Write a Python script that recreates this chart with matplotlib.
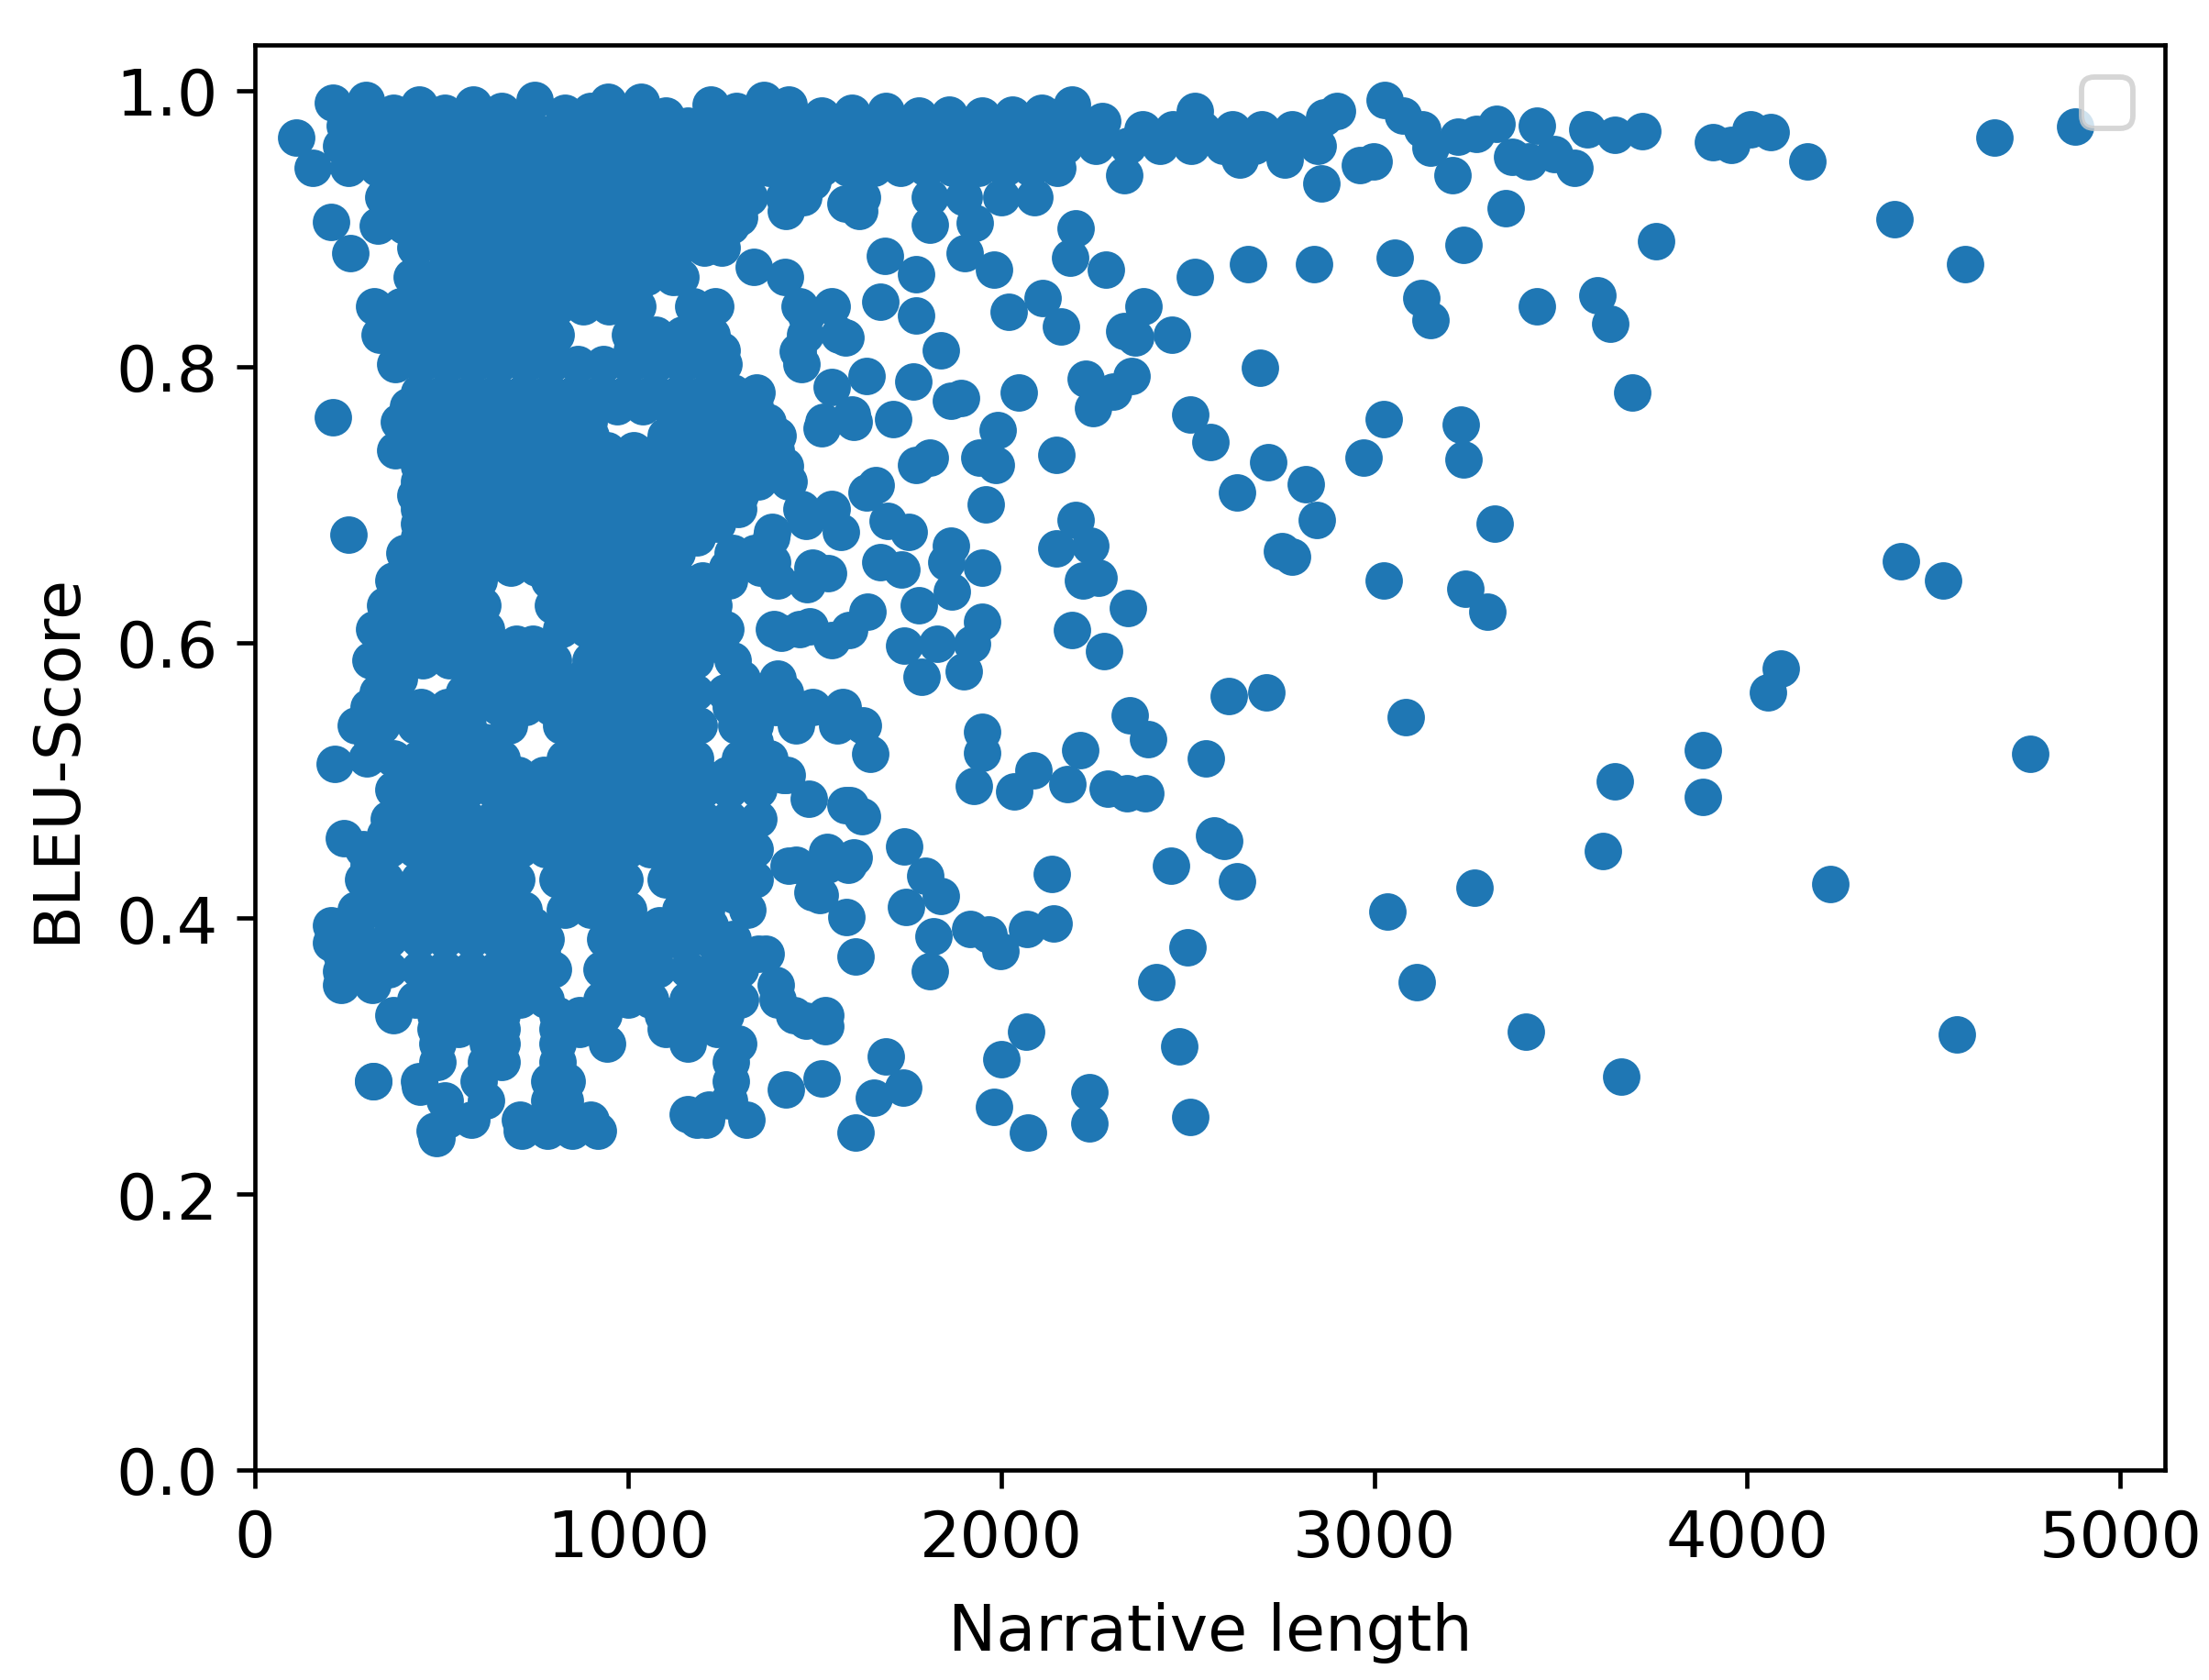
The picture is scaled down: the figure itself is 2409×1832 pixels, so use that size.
import logging
import matplotlib
matplotlib.use("Agg")
import matplotlib.pyplot as plt

logging.getLogger("matplotlib.legend").setLevel(logging.ERROR)

x_sparse = [110,155,205,255,208,250,215,238,205,230,317,442,487,
 4880,4664,4585,4396,4162,4010,4063,3908,3958,3757,3720,3644,3572,3538,3482,3414,3369,3353,3436,3327,3274,3225,3210,3240,
 3436,3599,3633,3693,3127,3150,3055,3029,3078,3130,3150,2999,2961,2900,2866,2859,2840,2662,2519,2519,2281,2330,
 2383,2458,2330,2360,2228,2247,2349,2300,2507,2560,2693,2715,2632,2817,2847,2753,2779,2972,3025,3232,3240,3323,
 3025,3244,3304,4411,4524,4090,4056,3882,3882,3644,4758,3614,4222,3270,3036,3115,3406,3663,4562,3085,
 2712,2610,2549,2572,2598,2632,2455,2500,2417,2477,2507,2236,2236,2073,1982,2066,2002,1609,1658,1692,1737,
 1318,1159,1216,1424,1518,1477,1530,2069,2141,2137,1998,1967,1918,1809,1820,1745,1839,1798,1741,
 1609,1586,1605,1495,1431,1533,1628,1582,1484,1416,1650,1926,1949,1949,2036,2088,2179,2213,2285,2338,2387,2345,2394,
 2341,2277,2190,2220,2262,2239,2201,2149,2149,1949,1960,1986,1941,1990,1949,1922,1900,1828,1786,1741,
 2047,2020,2111,2160,2186,2201,1982,1930,1892,1866,1839,1771,1677,1809,1771,1688,1903,
 1764,1809,1771,1711,1665,1639,1752,1696,1677,1733,1779,1866,1854,1869,1643,1594,1545,1488,1412,1480,1537,
 1571,1477,1386,1386,1518,1601,1545,1639,1454,1477,1582,1424,1582,1620,1420,1337,1495,1299]
y_sparse = [.966,.944,.905,.882,.763,.678,.512,.458,.382,.362,.282,.278,.241,
 .974,.966,.874,.907,.949,.972,.970,.963,.961,.891,.971,.968,.972,.944,.954,.949,.952,.915,.975,.976,.969,.967,.939,.888,
 .844,.852,.831,.781,.850,.834,.879,.993,.982,.972,.959,.949,.946,.985,.981,.933,.874,.874,.865,.985,.870,.939,
 .844,.823,.826,.821,.791,.770,.793,.782,.765,.745,.799,.731,.709,.715,.689,.666,.662,.734,.762,.758,.733,.686,
 .645,.639,.622,.659,.645,.581,.564,.522,.488,.499,.519,.449,.425,.422,.405,.354,.318,.285,.316,.546,
 .564,.561,.516,.460,.456,.427,.438,.379,.354,.307,.256,.274,.251,.245,.263,.318,.298,.245,.270,.300,.277,
 .254,.258,.261,.276,.284,.326,.322,.392,.396,.432,.376,.388,.392,.362,.387,.408,.416,.431,.452,
 .372,.401,.444,.419,.438,.448,.474,.482,.487,.504,.519,.496,.535,.520,.492,.507,.497,.522,.494,.491,.491,.547,.530,
 .625,.594,.609,.645,.647,.670,.689,.668,.736,.654,.700,.729,.734,.754,.615,.599,.579,.599,.575,.598,
 .781,.840,.850,.829,.879,.900,.870,.904,.777,.775,.812,.837,.847,.903,.867,.880,.882,
 .789,.734,.729,.762,.714,.709,.680,.688,.658,.653,.627,.670,.658,.637,.622,.609,.602,.612,.607,.642,.650,
 .680,.688,.680,.658,.755,.765,.785,.793,.811,.837,.821,.913,.918,.913,.865,.872,.934,.908]

x_crest = [210,298,370,441,510,584,660,749,830,900,946,1034,1100,1221,1290,1363,1430,1520,1600,1690,1780,1860,1950,2030,2110,2190,2270]
y_crest = [.991,.993,.984,.990,.984,.990,.985,.993,.984,.985,.992,.992,.982,.990,.985,.993,.990,.982,.984,.985,.982,.983,.982,.983,.984,.990,.978]

row_levels = [.975,.960,.944,.923,.902,.886,.865,.844,.823,.802,.781,.760,.739,.717,.697,.676,.654,.633,
 .620,.599,.574,.553,.528,.504,.482,.461,.439,.417,.395,.374,.352,.330,.309,.282,.254,.246]
row_points = [
 [240,320,400,480,565,650,735,820,905,990,1075,1160,1245,1330,1415,1500,1585,1670,1755,1840,1925,2010,2095,2180,2265],
 [230,300,385,470,555,640,725,810,895,980,1065,1150,1235,1320,1405,1490,1575,1660,1745,1830,1915,2000,2085,2170,2255,2340,2425,2510,2595,2680,2765,2850],
 [250,330,400,470,540,610,680,750,820,890,960,1030,1100,1170,1240,1310,1380,1450,1520,1590,1660,1730,1800,1870,1940,2010,2080,2150],
 [345,415,485,555,625,695,765,835,905,975,1045,1115,1185,1255,1325,1418,1470,1627,1810,1900,2000,2090],
 [330,400,470,540,610,680,750,820,890,960,1030,1100,1170,1240,1275],
 [430,505,575,645,715,785,855,925,995,1065,1135,1205,1250],
 [420,490,560,630,700,770,840,910,980,1050,1120,1140],
 [320,390,460,530,600,670,740,810,880,950,1025,1175,1235,1460,1545],
 [335,405,475,545,615,685,755,805,1005,1075,1145,1225,1475,1565],
 [375,445,515,585,655,725,795,865,935,1005,1075,1145,1215,1255,1465],
 [440,510,580,650,720,790,860,930,1000,1070,1140,1210,1280,1345],
 [385,455,525,595,665,735,805,875,895,1125,1195,1265,1335,1375,1525,1605],
 [375,525,595,665,735,805,875,945,1015,1085,1155,1225,1295,1365,1395],
 [440,510,580,650,720,790,860,930,1000,1070,1140,1210,1280,1350,1430],
 [440,475,545,615,685,755,825,895,965,1035,1105,1175,1245,1295,1465,1545],
 [440,510,580,650,720,790,860,930,1000,1070,1140,1185,1385],
 [405,475,545,615,685,755,825,895,965,1045,1265,1355,1495],
 [385,455,545,835,905,975,1045,1115,1195],
 [385,475,570,835,870,940,1010,1080,1150,1205],
 [350,420,490,560,630,700,745,925,995,1065,1135,1240],
 [385,595,665,735,805,875,945,1015,1085,1115,1305,1400],
 [305,375,445,515,585,655,725,795,865,935,1005,1075,1145,1275,1395,1495,1575],
 [315,475,545,615,855,925,995,1065,1130,1340],
 [425,495,565,635,705,775,845,915,985,1055,1125,1195,1265,1305,1425],
 [425,490,545,715,785,855,925,995,1045,1155,1595],
 [350,420,490,560,630,700,770,840,910,945,1105,1175,1245,1305],
 [305,475,545,615,665,855,945,1120,1190,1260,1305,1450,1535,1590],
 [320,390,460,530,600,660,875,945,1185,1285,1515],
 [205,270,440,510,580,650,720,745,985,1085,1220],
 [230,300,680,770,975,1010,1350,1370],
 [230,315,490,560,630,700,745,965,1040,1195,1260,1395],
 [370,485,545,605,660,810,870,935,1095,1150,1205,1260,1445,1530],
 [490,625,660,810,945,1160,1295],
 [317,440,600,790,835,1275],
 [515,580,710,775,840,900,1185,1210],
 [482,715,785,850,920],
]

filler_levels = [.972,.950,.812,.771,.750,.728,.707,.686,.665,.645,.627,.610,.587,.564,.540,.516,.493,.472,.450,.428,.406,.385,.363,.341,.320,.296,.268]
filler_points = [
 [2380,2460,2540,2620,2700,2780],
 [1700,1780,1860,1940,2020,2100,2640,2760],
 [400,470,540,610,680,750,790,1010,1080,1150,1220,1250],
 [410,480,550,620,690,760,830,900,970,1040,1110,1180,1250,1320,1340],
 [420,490,560,630,700,770,840,900,1100,1170,1240,1310,1400],
 [440,510,580,650,720,790,860,930,1000,1070,1140,1210,1280,1350,1420],
 [430,500,570,640,710,780,850,920,990,1060,1130,1200,1270,1300],
 [440,510,580,650,720,790,860,930,1000,1070,1140,1210,1240],
 [400,470,540,610,680,750,820,890,960,1030,1100,1130,1280,1340],
 [370,440,510,600,790,860,930,1000,1070,1140,1200,1270,1400],
 [350,420,490,560,610,800,870,940,1010,1080,1150,1230],
 [320,420,490,560,620,820,890,960,1030,1100,1170,1260,1390,1460],
 [310,380,450,520,590,660,730,800,900,970,1040,1110,1180,1280],
 [330,560,630,700,770,840,910,980,1050,1120,1180,1260,1330,1420],
 [270,340,430,500,570,680,820,890,960,1030,1100,1190,1290,1340,1450,1560,1630],
 [300,370,440,510,580,660,830,900,970,1040,1110,1180,1300,1380],
 [370,440,510,570,640,700,770,840,910,980,1050,1100,1130,1200,1270,1350],
 [360,430,500,570,640,710,780,850,920,1000,1060,1130,1200,1270,1350],
 [290,360,430,500,570,640,710,780,850,920,1000,1060,1130,1200,1270,1340],
 [290,350,440,510,580,650,700,810,880,950,990,1100,1170,1240,1340],
 [270,340,410,480,550,620,720,830,900,1000,1140,1210,1320],
 [250,360,440,510,580,650,720,780,940,1010,1080,1120,1160,1220,1280],
 [235,360,440,510,580,650,720,800,930,1000,1080,1160,1230,1300],
 [430,500,570,640,710,780,930,1000,1060,1160,1230,1300,1400],
 [485,545,625,660,810,870,1100,1160,1240],
 [490,620,660,810,1275],
 [510,620,790,830,1270],
]

plt.rcParams["font.family"] = "DejaVu Sans"
plt.rcParams["font.size"] = 12
fig = plt.figure(figsize=(2409 / 420, 1833 / 420), dpi=420)
ax = fig.add_axes([278 / 2409, 1 - 1604 / 1833, (2361 - 278) / 2409, (1604 - 50) / 1833])

xs = list(x_sparse) + list(x_crest)
ys = list(y_sparse) + list(y_crest)
for level, row in zip(row_levels + filler_levels, row_points + filler_points):
    xs += row
    ys += [level] * len(row)

ax.scatter(xs, ys, color="#1f77b4")
ax.set_xlim(0, 5120)
ax.set_ylim(0, 1.0332)
ax.set_xlabel("Narrative length", labelpad=6)
ax.set_ylabel("BLEU-Score", labelpad=5.3)
ax.legend()
fig.savefig("out.png", dpi=420)
